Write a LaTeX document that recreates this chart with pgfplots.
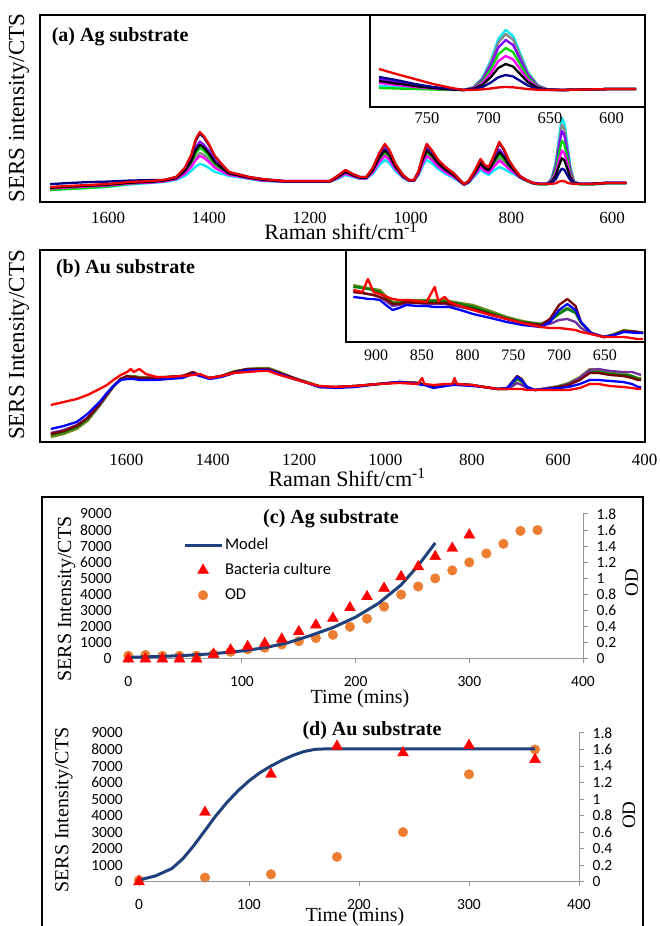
\documentclass[border=0pt]{standalone}
\usepackage{fontspec}
\setmainfont{Liberation Serif}
\newfontfamily\carlito{Carlito}
\usepackage{pgfplots}
\pgfplotsset{compat=1.18}
\usepackage{pgfplotstable}

\definecolor{cCy}{RGB}{0,235,245}
\definecolor{cMa}{RGB}{255,0,255}
\definecolor{cGr}{RGB}{135,135,135}
\definecolor{cGn}{RGB}{0,215,0}
\definecolor{cBk}{RGB}{0,0,0}
\definecolor{cPu}{RGB}{130,0,255}
\definecolor{cNv}{RGB}{0,0,140}
\definecolor{cRd}{RGB}{235,0,0}
\definecolor{bRd}{RGB}{255,0,0}
\definecolor{bBl}{RGB}{0,0,255}
\definecolor{bPu}{RGB}{112,48,160}
\definecolor{bOl}{RGB}{110,140,30}
\definecolor{bGn}{RGB}{0,128,0}
\definecolor{bBr}{RGB}{120,0,0}
\definecolor{mnavy}{RGB}{31,64,122}
\definecolor{xlorange}{RGB}{237,125,49}
\definecolor{axgray}{RGB}{150,150,150}

\pgfplotstableread{
w cy ma gr gn bk pu nv rd
1715 12 13.5 13.7 12 14.2 14.4 17.9 15
1680 13 14.5 14.7 13 15.2 15.4 18.9 16
1640 14 15.5 15.7 14 16.2 16.4 19.9 17
1600 15 16.5 16.7 15.5 17.2 17.4 20.4 18
1558 17.5 18.5 18.7 18 19.2 19.4 21.4 20
1515 19 19.5 19.7 20 20.2 20.4 21.9 21
1490 20 20.5 20.7 21 21.2 21.4 21.9 22
1465 22 22.8 23.1 23.5 23.8 24.1 24.9 25
1448 26 28 28.8 30 30.8 31.6 33.6 34
1435 31 35 36.6 39 40.6 42.2 46.2 47
1426 35.5 42 44.8 49 51.8 54.6 61.5 63
1418 38 46 49.2 54 57.2 60.4 68.4 70
1410 37 44.3 47.2 51.5 54.4 57.3 64.6 66
1400 34 40 42.4 46 48.4 50.8 56.8 58
1388 30 34 35.6 38 39.6 41.2 45.2 46
1373 28 30.3 31.2 32.5 33.4 34.3 36.6 37
1360 26 27 27.4 28 28.4 28.8 29.8 30
1344 25 25.8 26.1 26.5 26.8 27.1 27.9 28
1320 23 23.5 23.7 24 24.2 24.4 24.9 25
1294 21 21.5 21.7 22 22.2 22.4 22.9 23
1250 20 20.3 20.4 20.5 20.6 20.7 21 21
1200 20 20.3 20.4 20.5 20.6 20.7 21 21
1160 20 20.3 20.4 20.5 20.6 20.7 21 21
1145 23 23.8 24.1 24.5 24.8 25.1 25.9 26
1129 27 28.3 28.8 29.5 30 30.5 31.8 32
1115 25 25.8 26.1 26.5 26.8 27.1 27.9 28
1100 23 23.5 23.7 24 24.2 24.4 24.9 25
1088 23 23.5 23.7 24 24.2 24.4 24.9 25
1075 28 29.5 30.1 31 31.6 32.2 33.7 34
1062 37 40 41.2 43 44.2 45.4 48.4 49
1051 42 46 47.6 50 51.6 53.2 57.2 58
1042 39 42.3 43.6 45.5 46.8 48.1 51.4 52
1030 31 32.8 33.5 34.5 35.2 35.9 37.7 38
1015 24 24.8 25.1 25.5 25.8 26.1 26.9 27
1003 21 21.3 21.4 21.5 21.6 21.7 22 22
993 21 21.3 21.4 21.5 21.6 21.7 22 22
984 27 28 28.4 29 29.4 29.8 30.8 31
976 36 38.5 39.5 41 42 43 45.5 46
968 42 46 47.6 50 51.6 53.2 57.2 58
958 39 42.3 43.6 45.5 46.8 48.1 51.4 52
945 33 35.3 36.2 37.5 38.4 39.3 41.6 42
931 28 29.8 30.5 31.5 32.2 32.9 34.7 35
915 24 25.3 25.8 26.5 27 27.5 28.8 29
900 19 19.5 19.7 20 20.2 20.4 20.9 21
894 17 17.3 17.4 17.5 17.6 17.7 18 18
885 19 19.5 19.7 20 20.2 20.4 20.9 21
872 26 27.5 28.1 29 29.6 30.2 31.7 32
861 32 34.8 35.9 37.5 38.6 39.7 42.5 43
853 29 31 31.8 33 33.8 34.6 36.6 37
845 27 29 29.8 31 31.8 32.6 34.6 35
836 31 34.5 35.9 38 39.4 40.8 44.3 45
824 35 41.3 43.8 47.5 50 52.5 58.8 60
815 33 38 40 43 45 47 52 53
805 30 33 34.2 36 37.2 38.4 41.4 42
795 28 29.5 30.1 31 31.6 32.2 33.7 34
783 24 24.5 24.7 25 25.2 25.4 25.9 26
770 21 21.3 21.4 21.5 21.6 21.7 22 22
758 18.5 19 19 18.7 19 19.2 19.3 19
745 17.5 18 18 17.7 18 18.2 18.3 18
729 17.5 18 18 17.7 18 18.2 18.3 18
720 24 21 23.4 21.9 20.3 22.8 19.3 18.2
712 40 29 37.8 32.3 26.4 35.6 22.8 18.7
706 63 41 58.6 47.6 35.7 54.2 28.7 20.3
700 84 51.5 77.5 61.3 43.7 71 33.3 21
695 79 49 73 58 41.8 67 32.2 20.8
689 58 38 54 44 33.2 50 26.8 19.2
683 35 26.5 33.3 29.1 24.5 31.6 21.7 18.5
676 21 19.5 20.7 20 19.1 20.4 18.7 18.1
665 17.5 18 18 17.7 18 18.2 18.3 18
640 17.5 18 18 17.7 18 18.2 18.3 18
610 18.5 19 19 18.7 19 19.2 19.3 19
590 18.5 19 19 18.7 19 19.2 19.3 19
572 18.5 19 19 18.7 19 19.2 19.3 19
}\tabAmain

\pgfplotstableread{
w cy ma gr gn bk pu nv rd
789 21 24 25 19 26 28 30 38
775 20 22 23 18.5 23.5 25 27 33
760 19 20 21 18 21 22 23 28
745 18 18.5 19 17.5 19 19.5 20 23
730 17.5 17.5 17.5 17 17.5 17.5 18 19
720 17 17 17 17 17 17 17 17
712 20 18.7 19.8 19.1 18.3 19.5 17.75 17.15
705 29 23.8 28.2 25.4 22.2 27 20 17.6
698 47 34 45 38 30 42 24.5 18.5
692 68 45.9 64.6 52.7 39.1 59.5 29.75 19.55
686 77 51 73 59 43 67 32 20
680 71 47.6 67.4 54.8 40.4 62 30.5 19.7
674 53 37.4 50.6 42.2 32.6 47 26 18.8
668 35 27.2 33.8 29.6 24.8 32 21.5 17.9
660 21.8 19.7 21.5 20.4 19.1 21 18.2 17.2
652 17.6 17.3 17.6 17.4 17.3 17.5 17.15 17
640 17 17 17 17 17 17 17 17
620 17.5 17.5 17.5 17.5 17.5 17.5 17.5 17.5
600 18 18 18 18 18 18 18 18
580 18 18 18 18 18 18 18 18
}\tabAins

\pgfplotstableread{
w rd bl pu ol gn br
1775 37 13 9 5 7 8
1745 40 16 12 8 10 11
1715 43 20 17 13 15 16
1690 47 28 24 21 23 24
1662 53 40 37 36 37 38
1645 57 49 47 46 47 48
1630 62 56 56 55 56 56
1613 67 62 63 63 63 63
1598 70 63 66 66 66 66
1590 73 63 65 66 65 65
1583 70 63 65 66 65 65
1570 73 62 64 65 64 64
1555 68 62 64 65 64 64
1530 65 62 64 65 64 64
1505 65 63 65 65 65 65
1470 66 64 66 66 66 66
1446 67 68 69 69 69 70
1430 68 66 67 67 67 67
1407 64 63 64 64 64 64
1380 66 65 66 66 66 66
1350 69 69 70 71 70 70
1319 70 72 73 73 73 73
1290 71 72 73 74 73 73
1271 71 72 73 74 73 73
1245 67 68 69 70 69 69
1212 63 63 64 64 64 64
1180 59 59 59 60 59 59
1153 56 55 55 56 55 55
1114 55 54 55 55 55 55
1070 56 55 56 56 56 56
1016 58 58 58 58 58 58
967 59 60 60 60 60 60
925 58 58 59 59 59 59
915 64 57 58 58 58 58
910 58 57 58 58 58 58
889 57 54 55 55 55 55
860 58 56 57 57 57 57
845 58 57 58 58 58 58
840 64 57 58 58 58 58
835 58 57 58 58 58 58
800 57 56 57 57 57 57
772 55 55 55 55 55 55
740 53 53 53 53 53 53
718 53 54 53 53 53 54
705 53 60 56 58 59 61
695 53 65 59 63 63 66
685 53 62 57 60 61 63
672 52 55 54 54 54 55
654 52 52 52 52 52 52
625 52 53 54 54 53 53
600 52 54 55 56 55 55
576 52 55 58 59 58 57
550 54 58 64 65 63 62
527 58 62 72 73 70 69
507 58 62 73 72 70 69
480 56 61 71 70 68 67
450 55 60 70 69 67 66
429 54 58 70 66 66 64
415 53 55 68 64 63 62
408 53 55 67 64 63 62
}\tabBmain

\pgfplotstableread{
w rd bl pu ol gn br
925 52 45 50 57 55 50
915 50 44 49 55 54 49
909 63 43 48 54 53 48
903 50 43 47 53 52 47
896 48 42 45 52 50 45
888 45 36 40 45 43 42
882 43 32 36 40 39 38
875 42 34 37 40 39 38
867 42 37 39 42 41 40
855 41 36 39 42 41 39
845 40 36 38 42 41 39
836 55 35 38 42 41 39
832 41 35 38 42 41 39
825 45 35 38 42 41 39
820 40 35 37 41 40 38
808 36 32 35 39 38 36
794 32 28 32 37 35 33
775 27 24 27 31 29 28
757 23 20 23 25 24 23
740 19 17 19 21 20 19
720 15 15 17 18 18 17
710 14 20 18 22 21 23
700 14 32 22 30 28 37
691 13 38 23 34 33 43
682 12 32 20 30 29 36
676 10 20 14 19 19 20
665 8 9 8 9 9 9
651 5 5 5 5 5 5
640 5 7 7 8 7 7
629 5 10 11 12 11 11
614 3 9 10 10 10 10
608 3 9 9 9 9 9
}\tabBins

\pgfplotsset{
  spec/.style={no marks, line width=2.3pt, line join=round},
  specbox/.style={anchor=south west, scale only axis, x dir=reverse,
    axis line style={line width=2.5pt}, ytick=\empty, major tick length=0pt,
    xticklabel style={inner sep=0pt, anchor=north},
    /pgf/number format/set thousands separator={},
    /pgf/number format/assume math mode=true},
  xlaxis/.style={anchor=south west, scale only axis, xmin=0, xmax=400,
    tick align=outside, major tick length=4.5pt, scaled ticks=false,
    ticklabel style={font=\carlito\fontsize{15.5}{15.5}\selectfont, inner sep=0pt},
    /pgf/number format/set thousands separator={},
    /pgf/number format/assume math mode=true, clip=false},
  linelegend/.style={legend image code/.code={\draw[##1] (0pt,0pt) -- (37pt,0pt);}},
  marklegend/.style={legend image code/.code={\draw[mark repeat=2,mark phase=2,##1] plot coordinates {(0pt,0pt) (18.5pt,0pt) (37pt,0pt)};}},
}

\begin{document}
\begin{tikzpicture}
\useasboundingbox (0pt,0pt) rectangle (659pt,926pt);

% ---------- (a) main ----------
\begin{axis}[specbox, at={(40pt,724pt)}, width=605pt, height=187pt,
  xmin=535, xmax=1735, ymin=0, ymax=187,
  xtick={600,800,1000,1200,1400,1600},
  xticklabel style={font=\fontsize{17}{17}\selectfont}, xticklabel shift=10.5pt]
\addplot[spec, cCy] table[x=w,y=cy]{\tabAmain};
\addplot[spec, cGr] table[x=w,y=gr]{\tabAmain};
\addplot[spec, cPu] table[x=w,y=pu]{\tabAmain};
\addplot[spec, cGn] table[x=w,y=gn]{\tabAmain};
\addplot[spec, cMa] table[x=w,y=ma]{\tabAmain};
\addplot[spec, cBk] table[x=w,y=bk]{\tabAmain};
\addplot[spec, cNv] table[x=w,y=nv]{\tabAmain};
\addplot[spec, cRd] table[x=w,y=rd]{\tabAmain};
\end{axis}

% ---------- (a) inset ----------
\begin{axis}[specbox, at={(370pt,819pt)}, width=275pt, height=92pt,
  xmin=572.8, xmax=796.3, ymin=0, ymax=92,
  axis background/.style={fill=white},
  xtick={600,650,700,750},
  xticklabel style={font=\fontsize{16.5}{16.5}\selectfont}, xticklabel shift=5.5pt]
\addplot[spec, cCy] table[x=w,y=cy]{\tabAins};
\addplot[spec, cGr] table[x=w,y=gr]{\tabAins};
\addplot[spec, cPu] table[x=w,y=pu]{\tabAins};
\addplot[spec, cGn] table[x=w,y=gn]{\tabAins};
\addplot[spec, cMa] table[x=w,y=ma]{\tabAins};
\addplot[spec, cBk] table[x=w,y=bk]{\tabAins};
\addplot[spec, cNv] table[x=w,y=nv]{\tabAins};
\addplot[spec, cRd] table[x=w,y=rd]{\tabAins};
\end{axis}

% ---------- (b) main ----------
\begin{axis}[specbox, at={(40pt,484pt)}, width=605pt, height=192pt,
  xmin=399, xmax=1800, ymin=0, ymax=192,
  xtick={400,600,800,1000,1200,1400,1600},
  xticklabel style={font=\fontsize{17}{17}\selectfont}, xticklabel shift=12pt]
\addplot[spec, bOl] table[x=w,y=ol]{\tabBmain};
\addplot[spec, bGn] table[x=w,y=gn]{\tabBmain};
\addplot[spec, bPu] table[x=w,y=pu]{\tabBmain};
\addplot[spec, bBr] table[x=w,y=br]{\tabBmain};
\addplot[spec, bBl] table[x=w,y=bl]{\tabBmain};
\addplot[spec, bRd] table[x=w,y=rd]{\tabBmain};
\end{axis}

% ---------- (b) inset ----------
\begin{axis}[specbox, at={(346pt,584pt)}, width=299pt, height=92pt,
  xmin=606, xmax=933, ymin=0, ymax=92,
  axis background/.style={fill=white},
  xtick={650,700,750,800,850,900},
  xticklabel style={font=\fontsize{16}{16}\selectfont}, xticklabel shift=7.5pt]
\addplot[spec, bOl] table[x=w,y=ol]{\tabBins};
\addplot[spec, bGn] table[x=w,y=gn]{\tabBins};
\addplot[spec, bPu] table[x=w,y=pu]{\tabBins};
\addplot[spec, bBr] table[x=w,y=br]{\tabBins};
\addplot[spec, bBl] table[x=w,y=bl]{\tabBins};
\addplot[spec, bRd] table[x=w,y=rd]{\tabBins};
\end{axis}

% ---------- (c) right axis (OD) ----------
\begin{axis}[xlaxis, at={(128.3pt,267pt)}, width=454.7pt, height=145pt,
  ymin=0, ymax=1.8, hide x axis, axis y line*=right,
  ytick={0,0.2,0.4,0.6,0.8,1,1.2,1.4,1.6,1.8},
  y axis line style={draw=axgray, line width=1pt},
  ytick style={draw=axgray, line width=1pt},
  yticklabel style={anchor=west}, yticklabel shift=9pt]
\addplot[only marks, mark=*, mark size=4.8pt, color=xlorange] table {
0 0.04
15 0.05
30 0.04
45 0.04
60 0.04
75 0.06
90 0.09
105 0.12
120 0.14
135 0.18
150 0.22
165 0.26
180 0.30
195 0.40
210 0.50
225 0.65
240 0.80
255 0.90
270 1.00
285 1.10
300 1.20
315 1.31
330 1.43
345 1.59
360 1.60
};
\end{axis}

% ---------- (c) left axis ----------
\begin{axis}[xlaxis, at={(128.3pt,267pt)}, width=454.7pt, height=145pt,
  ymin=0, ymax=9000, axis x line*=bottom, axis y line*=left,
  xtick={0,100,200,300,400}, ytick={0,1000,...,9000},
  x axis line style={draw=axgray, line width=1pt}, y axis line style={draw=none},
  xtick style={draw=axgray, line width=1pt}, ytick style={draw=none},
  xticklabel style={anchor=north}, xticklabel shift=12.6pt,
  yticklabel style={anchor=east}, yticklabel shift=12pt,
  legend style={draw=none, fill=none, at={(axis cs:48,7510)}, anchor=north west,
    font=\carlito\fontsize{16.5}{16.5}\selectfont, inner sep=0pt, row sep=11pt,
    column sep=2pt, nodes={inner sep=0pt, text height=11pt, text depth=3pt}},
  legend cell align=left]
\addplot[color=mnavy, line width=3pt, no marks, linelegend] table {
0 100
25 150
50 220
75 330
100 500
120 700
140 1000
160 1450
180 1950
200 2600
220 3450
240 4600
255 5800
270 7200
};
\addlegendentry{Model}
\addplot[only marks, mark=triangle*, mark size=6.3pt, color=red, marklegend] table {
0 0
15 0
30 0
45 0
60 0
75 300
90 560
105 770
120 970
135 1240
150 1700
165 2110
180 2530
195 3190
210 3870
225 4390
240 5110
255 5730
270 6360
285 6870
300 7700
};
\addlegendentry{Bacteria culture}
\addlegendimage{only marks, mark=*, mark size=4.8pt, color=xlorange, marklegend}
\addlegendentry{OD}
\end{axis}

% ---------- (d) right axis (OD) ----------
\begin{axis}[xlaxis, at={(139pt,44.3pt)}, width=440pt, height=148.7pt,
  ymin=0, ymax=1.8, hide x axis, axis y line*=right,
  ytick={0,0.2,0.4,0.6,0.8,1,1.2,1.4,1.6,1.8},
  y axis line style={draw=axgray, line width=1pt},
  ytick style={draw=axgray, line width=1pt},
  yticklabel style={anchor=west}, yticklabel shift=9pt]
\addplot[only marks, mark=*, mark size=4.8pt, color=xlorange] table {
0 0.02
60 0.05
120 0.09
180 0.30
240 0.60
300 1.30
360 1.60
};
\end{axis}

% ---------- (d) left axis ----------
\begin{axis}[xlaxis, at={(139pt,44.3pt)}, width=440pt, height=148.7pt,
  ymin=0, ymax=9000, axis x line*=bottom, axis y line*=left,
  xtick={0,100,200,300,400}, ytick={0,1000,...,9000},
  x axis line style={draw=axgray, line width=1pt}, y axis line style={draw=none},
  xtick style={draw=axgray, line width=1pt}, ytick style={draw=none},
  xticklabel style={anchor=north}, xticklabel shift=12.9pt,
  yticklabel style={anchor=east}, yticklabel shift=11.5pt]
\addplot[only marks, mark=triangle*, mark size=6.3pt, color=red] table {
0 0
60 4200
120 6500
180 8200
240 7800
300 8250
360 7400
};
\addplot[color=mnavy, line width=3pt, no marks] table {
0 100
15 350
30 800
40 1400
50 2200
60 3100
70 4000
80 4800
90 5500
100 6100
110 6600
120 7000
130 7350
140 7650
150 7880
160 8010
170 8040
180 8040
360 8040
};
\end{axis}

% ---------- frame of (c)/(d) ----------
\draw[line width=2.5pt] (42pt,-10pt) -- (42pt,429pt) -- (643pt,429pt) -- (643pt,-10pt);

% ---------- texts ----------
\node[anchor=base west, font=\bfseries\fontsize{20}{20}\selectfont] at (48.3pt,884.3pt) {(a) Ag substrate};
\node[anchor=base west, font=\bfseries\fontsize{20}{20}\selectfont] at (52.5pt,652.7pt) {(b) Au substrate};
\node[rotate=90, font=\fontsize{23}{23}\selectfont] at (19pt,818pt) {SERS intensity/CTS};
\node[rotate=90, font=\fontsize{23}{23}\selectfont] at (19pt,581pt) {SERS Intensity/CTS};
\node[anchor=base, font=\fontsize{22}{22}\selectfont] at (341pt,686pt) {Raman shift/cm\textsuperscript{-1}};
\node[anchor=base, font=\fontsize{22}{22}\selectfont] at (347pt,439.5pt) {Raman Shift/cm\textsuperscript{-1}};
\node[anchor=base, font=\bfseries\fontsize{20}{20}\selectfont] at (331pt,402.7pt) {(c) Ag substrate};
\node[anchor=base, font=\bfseries\fontsize{20}{20}\selectfont] at (372pt,190.3pt) {(d) Au substrate};
\node[rotate=90, font=\fontsize{20}{20}\selectfont] at (66.7pt,327pt) {SERS Intensity/CTS};
\node[rotate=90, font=\fontsize{20}{20}\selectfont] at (64pt,116pt) {SERS Intensity/CTS};
\node[rotate=90, font=\fontsize{19}{19}\selectfont] at (631.7pt,343pt) {OD};
\node[rotate=90, font=\fontsize{19}{19}\selectfont] at (629pt,111pt) {OD};
\node[anchor=base, font=\fontsize{20}{20}\selectfont] at (360pt,222pt) {Time (mins)};
\node[anchor=base, font=\fontsize{20}{20}\selectfont] at (355pt,4.5pt) {Time (mins)};
\end{tikzpicture}
\end{document}
